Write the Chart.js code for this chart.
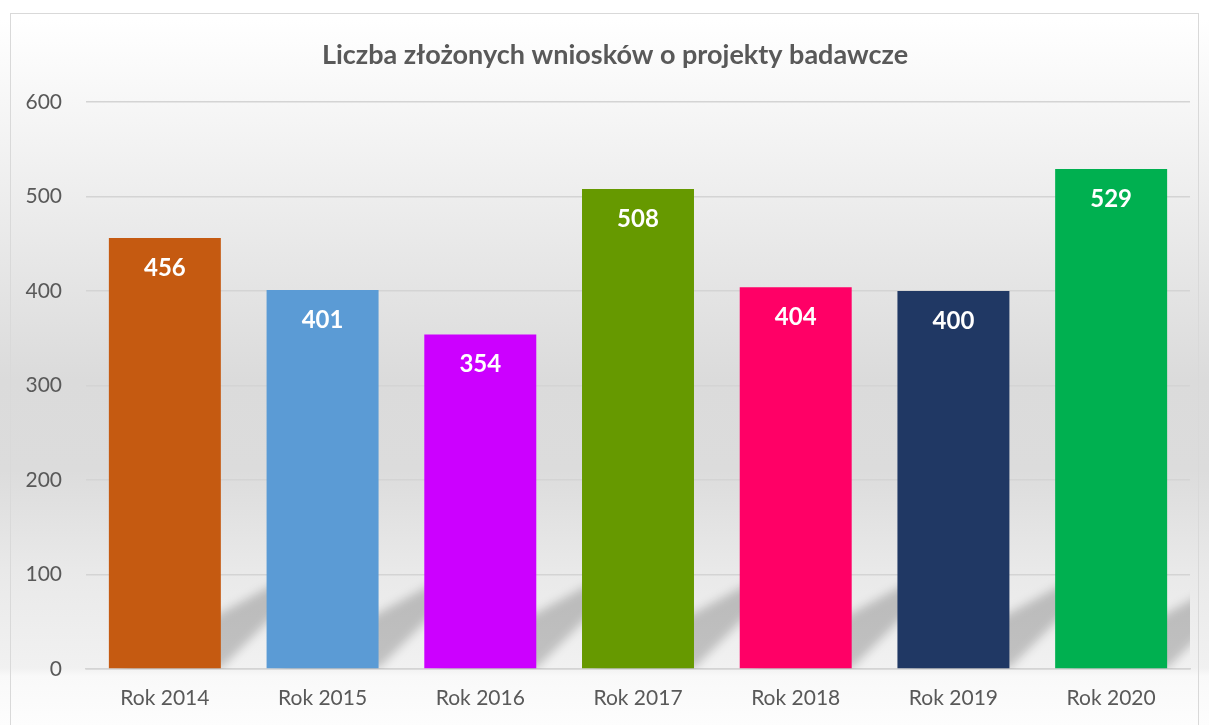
<!DOCTYPE html>
<html>
<head>
<meta charset="utf-8">
<script src="https://cdn.jsdelivr.net/npm/chart.js@4"></script>
<style>
html,body{margin:0;padding:0;background:#fff;}
canvas{display:block;}
</style>
</head>
<body>
<canvas id="c" width="1209" height="725"></canvas>
<script>
const titleText = "Liczba złożonych wniosków o projekty badawcze";
const categories = ["Rok 2014","Rok 2015","Rok 2016","Rok 2017","Rok 2018","Rok 2019","Rok 2020"];
const values = [456, 401, 354, 508, 404, 400, 529];
const barColors = ["#C55A11","#5B9BD5","#CC00FF","#669900","#FF0066","#203864","#00B050"];
const yTicks = [0,100,200,300,400,500,600];

const FONT = "Lato, 'Noto Sans', sans-serif";

const bgPlugin = {
  id: 'bg',
  beforeDraw(chart) {
    const ctx = chart.ctx, H = chart.height, W = chart.width;
    ctx.save();
    const g = ctx.createLinearGradient(0, 0, 0, H);
    g.addColorStop(0, '#ffffff');
    g.addColorStop(20/H, '#ffffff');
    g.addColorStop(100/H, '#f7f7f7');
    g.addColorStop(380/H, '#dbdbdb');
    g.addColorStop(470/H, '#dcdcdc');
    g.addColorStop(570/H, '#e9e9e9');
    g.addColorStop(668/H, '#f1f1f1');
    g.addColorStop(676/H, '#f9f9f9');
    g.addColorStop(1, '#fdfdfd');
    ctx.fillStyle = g;
    ctx.fillRect(0, 0, W, H);
    ctx.strokeStyle = '#d9d9d9';
    ctx.lineWidth = 1;
    ctx.strokeRect(10.5, 13.5, 1188, 740);
    // title
    ctx.fillStyle = '#595959';
    ctx.font = "bold 27px " + FONT;
    ctx.textAlign = 'center';
    ctx.textBaseline = 'middle';
    ctx.fillText(titleText, 615, 55);
    ctx.restore();
  }
};

const shadowPlugin = {
  id: 'barShadow',
  beforeDatasetsDraw(chart) {
    const ctx = chart.ctx, a = chart.chartArea;
    const meta = chart.getDatasetMeta(0);
    ctx.save();
    ctx.beginPath();
    ctx.rect(a.left, a.top, a.right - a.left, a.bottom - a.top);
    ctx.clip();
    ctx.filter = 'blur(5px)';
    ctx.fillStyle = 'rgba(0,0,0,0.2)';
    meta.data.forEach(bar => {
      const L = bar.x - bar.width / 2, R = bar.x + bar.width / 2, B = bar.base;
      ctx.beginPath();
      ctx.moveTo(L + 10, B);
      ctx.lineTo(R, B);
      ctx.lineTo(R + 92, B - 92);
      ctx.lineTo(L + 180, B - 92);
      ctx.closePath();
      ctx.fill();
    });
    ctx.restore();
  }
};

const labelPlugin = {
  id: 'valLabels',
  afterDatasetsDraw(chart) {
    const ctx = chart.ctx;
    const meta = chart.getDatasetMeta(0);
    ctx.save();
    ctx.fillStyle = '#ffffff';
    ctx.font = "bold 24px " + FONT;
    ctx.textAlign = 'center';
    ctx.textBaseline = 'middle';
    meta.data.forEach((bar, i) => {
      ctx.fillText(String(values[i]), bar.x, bar.y + 30);
    });
    ctx.restore();
  }
};

new Chart(document.getElementById('c'), {
  type: 'bar',
  data: {
    labels: categories,
    datasets: [{
      data: values,
      backgroundColor: barColors,
      borderWidth: 0,
      categoryPercentage: 1,
      barPercentage: 0.71
    }]
  },
  options: {
    responsive: false,
    animation: false,
    devicePixelRatio: 1,
    layout: { padding: { top: 102, right: 19, bottom: 0, left: 0 } },
    plugins: {
      legend: { display: false },
      title: { display: false },
      tooltip: { enabled: false }
    },
    scales: {
      x: {
        grid: { display: false, drawTicks: false },
        border: { display: true, color: '#d4d4d4', width: 1.5 },
        ticks: { color: '#595959', font: { family: FONT, size: 21 }, padding: 17 },
        afterFit(s) { s.height = 56; }
      },
      y: {
        min: 0, max: 600,
        afterBuildTicks(s) { s.ticks = yTicks.map(v => ({ value: v })); },
        grid: { color: '#d4d4d4', lineWidth: 1.5, drawTicks: false },
        border: { display: false },
        ticks: { color: '#595959', font: { family: FONT, size: 21 }, padding: 24 },
        afterFit(s) { s.width = 86; }
      }
    }
  },
  plugins: [bgPlugin, shadowPlugin, labelPlugin]
});
</script>
</body>
</html>
